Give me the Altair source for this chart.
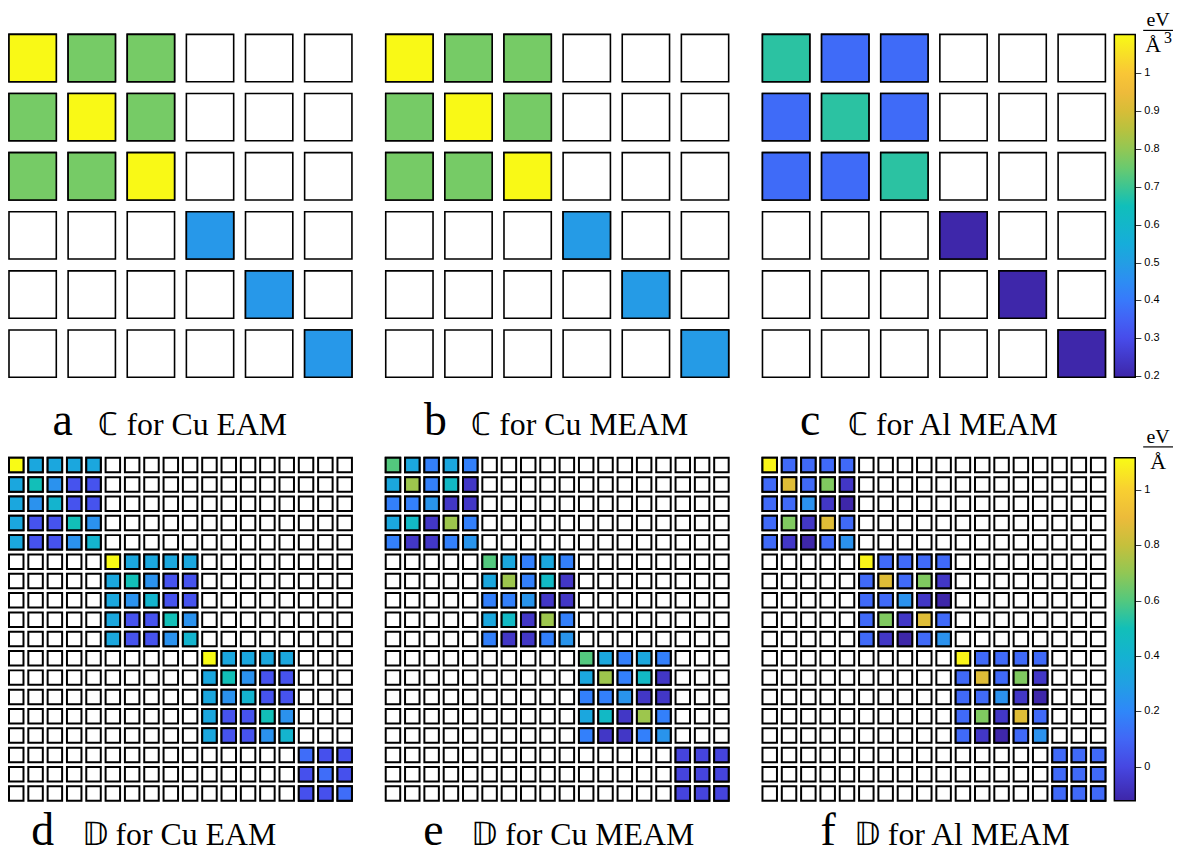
import altair as alt
import pandas as pd

# ---------------- colour map (parula-like stops) ----------------
PARULA_T = [0.0, 0.117, 0.195, 0.25, 0.31, 0.39, 0.5, 0.586, 0.625, 0.703, 0.781, 0.86, 0.918, 1.0]
PARULA_HEX = ["#3e26a8", "#474dec", "#3f6df9", "#3184fc", "#2897e9", "#16adda", "#10bfba",
              "#55c87c", "#75cb67", "#adc442", "#dabd36", "#faba3d", "#f7d42e", "#f9fb15"]

C_DOMAIN = [0.197, 1.103]
D_DOMAIN = [-0.123, 1.116]
C_TICKS = [0.2, 0.3, 0.4, 0.5, 0.6, 0.7, 0.8, 0.9, 1.0]
D_TICKS = [0.0, 0.2, 0.4, 0.6, 0.8, 1.0]

# ---------------- elasticity tensors C (eV/Å^3) ----------------
C_CU_EAM = [[1.10, 0.765, 0.765, 0, 0, 0],
            [0.765, 1.10, 0.765, 0, 0, 0],
            [0.765, 0.765, 1.10, 0, 0, 0],
            [0, 0, 0, 0.48, 0, 0],
            [0, 0, 0, 0, 0.48, 0],
            [0, 0, 0, 0, 0, 0.48]]
C_CU_MEAM = [[1.10, 0.765, 0.765, 0, 0, 0],
             [0.765, 1.10, 0.765, 0, 0, 0],
             [0.765, 0.765, 1.10, 0, 0, 0],
             [0, 0, 0, 0.49, 0, 0],
             [0, 0, 0, 0, 0.49, 0],
             [0, 0, 0, 0, 0, 0.49]]
C_AL_MEAM = [[0.68, 0.37, 0.37, 0, 0, 0],
             [0.37, 0.68, 0.37, 0, 0, 0],
             [0.37, 0.37, 0.68, 0, 0, 0],
             [0, 0, 0, 0.20, 0, 0],
             [0, 0, 0, 0, 0.20, 0],
             [0, 0, 0, 0, 0, 0.20]]

# ---------------- D tensors (eV/Å): 3 identical 5x5 blocks + one 3x3 block ----------------
D_CU_EAM_B5 = [[1.116, 0.335, 0.335, 0.335, 0.335],
               [0.335, 0.50, 0.24, 0.04, 0.04],
               [0.335, 0.24, 0.41, 0.04, 0.04],
               [0.335, 0.04, 0.04, 0.50, 0.24],
               [0.335, 0.04, 0.04, 0.24, 0.41]]
D_CU_EAM_B3 = [[0.12, 0.03, 0.03],
               [0.03, 0.12, 0.03],
               [0.03, 0.03, 0.12]]
D_CU_MEAM_B5 = [[0.60, 0.335, 0.175, 0.335, 0.175],
                [0.335, 0.72, 0.175, 0.45, -0.06],
                [0.175, 0.175, 0.25, -0.06, -0.06],
                [0.335, 0.45, -0.06, 0.72, 0.175],
                [0.175, -0.06, -0.06, 0.175, 0.25]]
D_CU_MEAM_B3 = [[-0.01, -0.01, -0.01],
                [-0.01, -0.01, -0.01],
                [-0.01, -0.01, -0.01]]
D_AL_MEAM_B5 = [[1.10, 0.11, 0.11, 0.11, 0.11],
                [0.11, 0.86, 0.11, 0.67, -0.06],
                [0.11, 0.11, 0.24, -0.06, -0.12],
                [0.11, 0.67, -0.06, 0.86, 0.11],
                [0.11, -0.06, -0.12, 0.11, 0.24]]
D_AL_MEAM_B3 = [[0.11, 0.11, 0.11],
                [0.11, 0.11, 0.11],
                [0.11, 0.11, 0.11]]

LETTERS_TOP = ["a", "b", "c"]
LETTERS_BOT = ["d", "e", "f"]
DESC_TOP = ["ℂ for Cu EAM", "ℂ for Cu MEAM", "ℂ for Al MEAM"]
DESC_BOT = ["𝔻 for Cu EAM", "𝔻 for Cu MEAM", "𝔻 for Al MEAM"]

# ---------------- layout ----------------
W = 345
H = 345
HSP = 34
ROW_GAP = 78          # distance from the top plots' bottom to the bottom plots' top
TOP_LABEL_DY = 55     # caption baseline below the top plots
BOT_LABEL_DY = 44     # caption baseline below the bottom plots
LETTER_X_TOP = [54, 50, 48]
DESC_X_TOP = [90, 86, 86]
LETTER_X_BOT = [34, 48, 66]
DESC_X_BOT = [73, 86, 92]
SERIF = "Liberation Serif"


def block_diag(blocks):
    n = sum(len(b) for b in blocks)
    m = [[0.0] * n for _ in range(n)]
    o = 0
    for b in blocks:
        k = len(b)
        for i in range(k):
            for j in range(k):
                m[o + i][o + j] = b[i][j]
        o += k
    return m


def long_form(mat):
    rows = []
    for i, row in enumerate(mat):
        for j, v in enumerate(row):
            rows.append({"r": i, "c": j, "v": v})
    return pd.DataFrame(rows)


def make_scale(dom):
    d0, d1 = dom
    return alt.Scale(domain=[d0 + t * (d1 - d0) for t in PARULA_T], range=PARULA_HEX,
                     interpolate="rgb")


def make_legend(ticks, length):
    return alt.Legend(orient="none", legendX=2 * (W + HSP) + W + 9, legendY=0, title=None,
                      direction="vertical", gradientLength=length, gradientThickness=21,
                      gradientStrokeColor="black", gradientStrokeWidth=1.5,
                      values=ticks, format=".1~f", labelExpr="'– ' + datum.label",
                      labelFont="Liberation Sans", labelFontSize=11, labelColor="black",
                      labelOffset=0, labelOverlap=False, padding=0)


def one_text(txt, x, y, size, align="center"):
    return (alt.Chart(pd.DataFrame({"t": [txt]}))
            .mark_text(font=SERIF, fontSize=size, align=align, baseline="alphabetic",
                       color="black")
            .encode(x=alt.value(x), y=alt.value(y), text="t:N"))


def unit_layers(cube, dy_ev, dy_line, dy_a):
    gx = W + 9
    out = [
        one_text("eV", gx + 44, dy_ev, 20),
        alt.Chart(pd.DataFrame({"k": [0]})).mark_rule(color="black", strokeWidth=1.2)
        .encode(x=alt.value(gx + 29), x2=alt.value(gx + 59), y=alt.value(dy_line)),
        one_text("Å", gx + 39 if cube else gx + 44, dy_a, 22),
    ]
    if cube:
        out.append(one_text("3", gx + 50, dy_a - 9, 16, align="left"))
    return out


def label_layers(letter, desc, lx, dx, dy):
    return [one_text(letter, lx, dy, 46), one_text(desc, dx, dy, 32, align="left")]


def panel(mat, scale, legend, sw, pad, extra):
    df = long_form(mat)
    xs = alt.X("c:O", axis=None, scale=alt.Scale(paddingInner=pad, paddingOuter=0))
    ys = alt.Y("r:O", axis=None, scale=alt.Scale(paddingInner=pad, paddingOuter=0))
    empty = alt.Chart(df).mark_rect(fill="white", stroke="black", strokeWidth=sw).encode(x=xs, y=ys)
    filled = (alt.Chart(df).transform_filter("datum.v != 0")
              .mark_rect(stroke="black", strokeWidth=sw)
              .encode(x=xs, y=ys, fill=alt.Fill("v:Q", scale=scale, legend=legend)))
    return alt.layer(empty, filled, *extra).properties(width=W, height=H)


c_scale = make_scale(C_DOMAIN)
d_scale = make_scale(D_DOMAIN)
c_leg = make_legend(C_TICKS, H)
d_leg = make_legend(D_TICKS, H)

C_MATS = [C_CU_EAM, C_CU_MEAM, C_AL_MEAM]
D_MATS = [block_diag([D_CU_EAM_B5] * 3 + [D_CU_EAM_B3]),
          block_diag([D_CU_MEAM_B5] * 3 + [D_CU_MEAM_B3]),
          block_diag([D_AL_MEAM_B5] * 3 + [D_AL_MEAM_B3])]

top_panels = []
for k in range(3):
    extra = unit_layers(True, -8, -4, 18) if k == 2 else []
    top_panels.append(panel(C_MATS[k], c_scale, c_leg, 1.6, 0.2, extra))

bot_panels = []
for k in range(3):
    # the caption of the panel above sits in the gap between the two rows
    extra = label_layers(LETTERS_TOP[k], DESC_TOP[k], LETTER_X_TOP[k], DESC_X_TOP[k],
                         TOP_LABEL_DY - ROW_GAP)
    extra += label_layers(LETTERS_BOT[k], DESC_BOT[k], LETTER_X_BOT[k], DESC_X_BOT[k],
                          H + BOT_LABEL_DY)
    if k == 2:
        extra += unit_layers(False, -15, -11, 11)
    bot_panels.append(panel(D_MATS[k], d_scale, d_leg, 2.0, 0.25, extra))

top = alt.hconcat(*top_panels, spacing=HSP, bounds="flush").resolve_scale(fill="shared")
bot = alt.hconcat(*bot_panels, spacing=HSP, bounds="flush").resolve_scale(fill="shared")

chart = (alt.vconcat(top, bot, spacing=17)
         .resolve_scale(fill="independent")
         .properties(padding=0, background="white")
         .configure_view(stroke=None))

chart.save("out.html", embed_options={"renderer": "svg", "actions": False})
